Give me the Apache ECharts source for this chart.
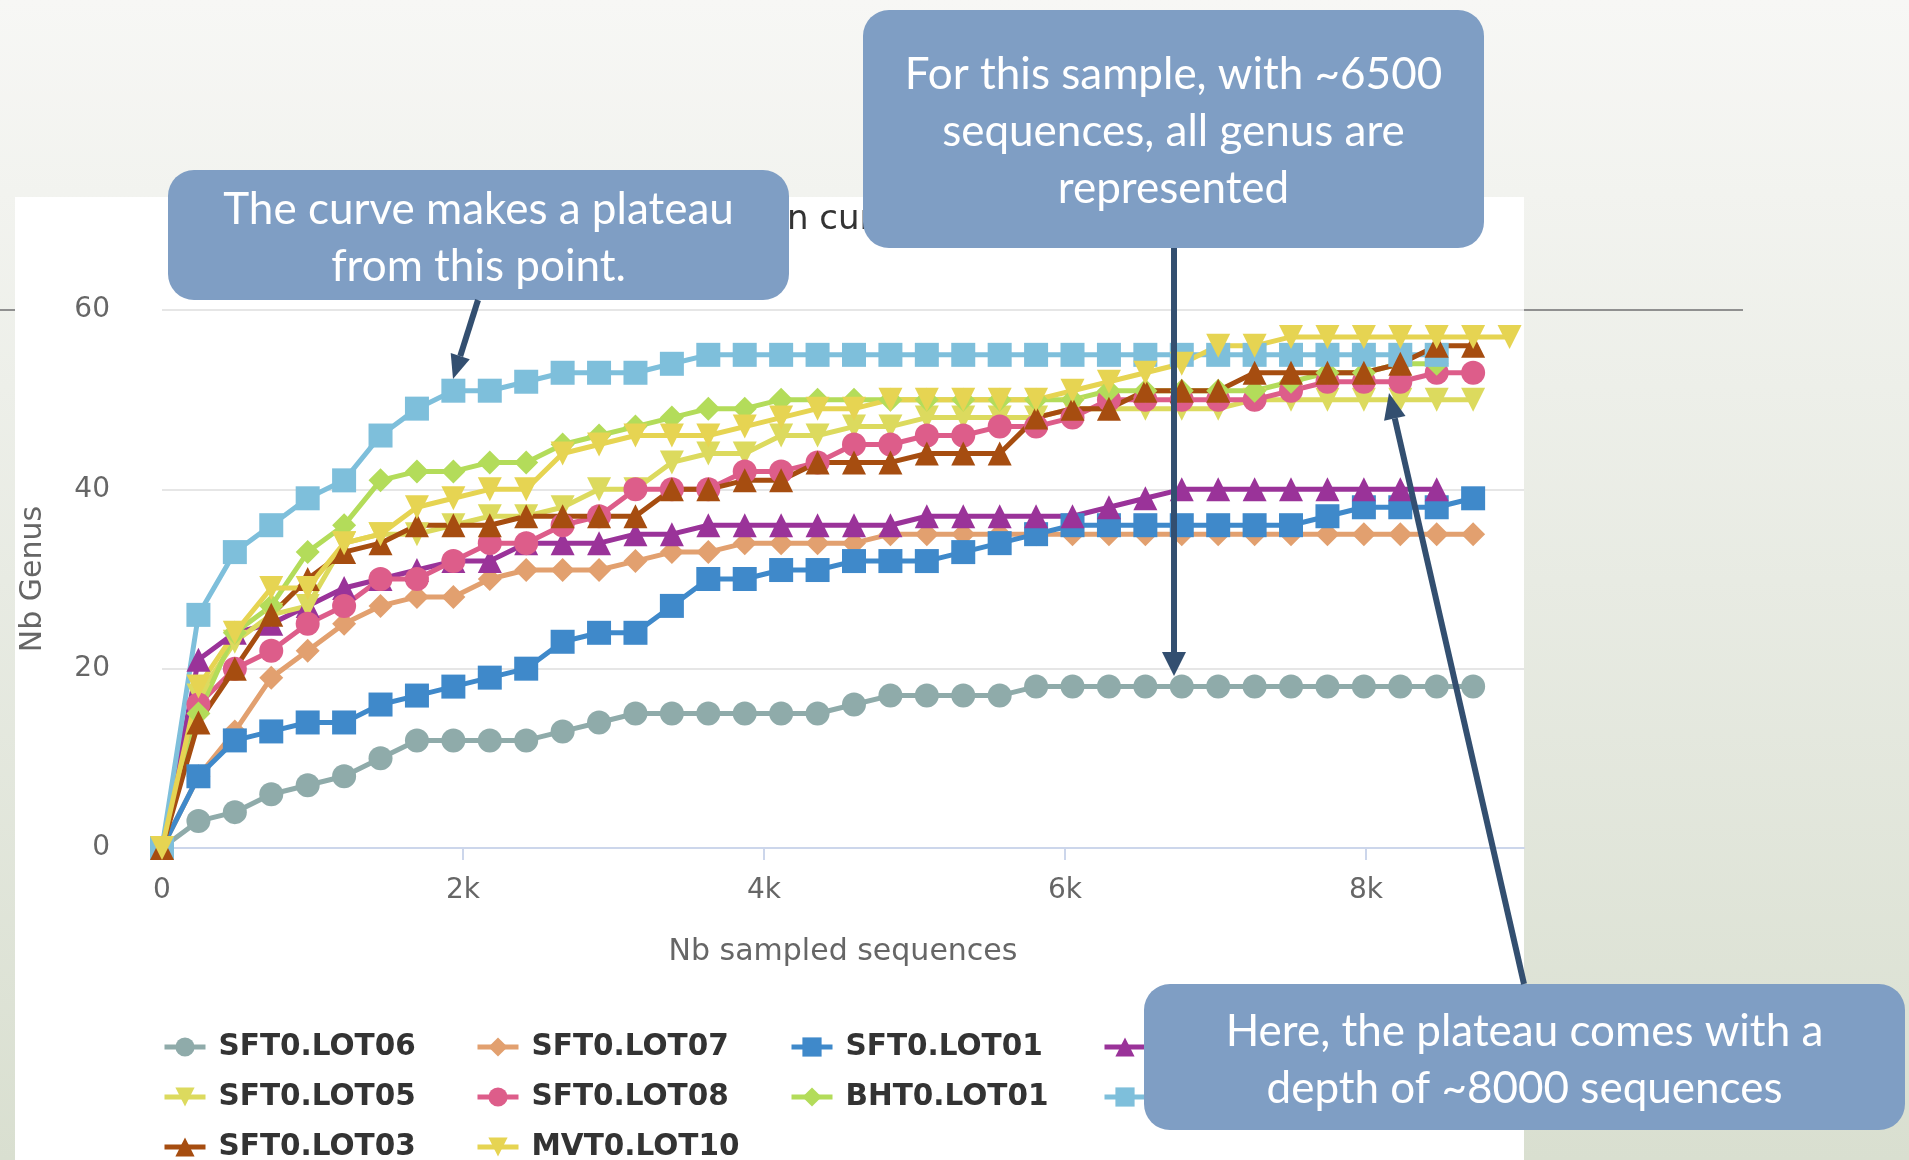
<!DOCTYPE html>
<html>
<head>
<meta charset="utf-8">
<script src="https://cdn.jsdelivr.net/npm/echarts@6/dist/echarts.min.js"></script>
<style>
html, body { margin: 0; padding: 0; }
#chart { width: 1909px; height: 1160px; }
</style>
</head>
<body>
<div id="chart"></div>
<script>
// sampled depth (nb of sequences) for each rarefaction step
var seqDepth = [0, 242, 484, 726, 968, 1210, 1452, 1694, 1936, 2178, 2420, 2662, 2904, 3146, 3388, 3630, 3872, 4114, 4356, 4598,
    4840, 5082, 5324, 5566, 5808, 6050, 6292, 6534, 6776, 7018, 7260, 7502, 7744, 7986, 8228, 8470, 8712, 8954];

var sft0Lot06 = [0, 3, 4, 6, 7, 8, 10, 12, 12, 12, 12, 13, 14, 15, 15, 15, 15, 15, 15, 16,
    17, 17, 17, 17, 18, 18, 18, 18, 18, 18, 18, 18, 18, 18, 18, 18, 18];
var sft0Lot07 = [0, 8, 13, 19, 22, 25, 27, 28, 28, 30, 31, 31, 31, 32, 33, 33, 34, 34, 34, 34,
    35, 35, 35, 35, 35, 35, 35, 35, 35, 35, 35, 35, 35, 35, 35, 35, 35];
var sft0Lot01 = [0, 8, 12, 13, 14, 14, 16, 17, 18, 19, 20, 23, 24, 24, 27, 30, 30, 31, 31, 32,
    32, 32, 33, 34, 35, 36, 36, 36, 36, 36, 36, 36, 37, 38, 38, 38, 39];
var sft0Lot02 = [0, 21, 24, 25, 27, 29, 30, 31, 32, 32, 34, 34, 34, 35, 35, 36, 36, 36, 36, 36,
    36, 37, 37, 37, 37, 37, 38, 39, 40, 40, 40, 40, 40, 40, 40, 40];
var sft0Lot05 = [0, 17, 23, 26, 27, 34, 35, 35, 36, 37, 37, 38, 40, 40, 43, 44, 44, 46, 46, 47,
    47, 48, 48, 48, 48, 49, 49, 49, 49, 49, 50, 50, 50, 50, 50, 50, 50];
var sft0Lot08 = [0, 16, 20, 22, 25, 27, 30, 30, 32, 34, 34, 36, 37, 40, 40, 40, 42, 42, 43, 45,
    45, 46, 46, 47, 47, 48, 50, 50, 50, 50, 50, 51, 52, 52, 52, 53, 53];
var bht0Lot01 = [0, 15, 24, 27, 33, 36, 41, 42, 42, 43, 43, 45, 46, 47, 48, 49, 49, 50, 50, 50,
    50, 50, 50, 50, 50, 50, 51, 51, 51, 51, 51, 52, 53, 53, 54, 54];
var sft0Lot04 = [0, 26, 33, 36, 39, 41, 46, 49, 51, 51, 52, 53, 53, 53, 54, 55, 55, 55, 55, 55,
    55, 55, 55, 55, 55, 55, 55, 55, 55, 55, 55, 55, 55, 55, 55, 55];
var sft0Lot03 = [0, 14, 20, 26, 30, 33, 34, 36, 36, 36, 37, 37, 37, 37, 40, 40, 41, 41, 43, 43,
    43, 44, 44, 44, 48, 49, 49, 51, 51, 51, 53, 53, 53, 53, 54, 56, 56];
var mvt0Lot10 = [0, 18, 24, 29, 29, 34, 35, 38, 39, 40, 40, 44, 45, 46, 46, 46, 47, 48, 49, 49,
    50, 50, 50, 50, 50, 51, 52, 53, 54, 56, 56, 57, 57, 57, 57, 57, 57, 57];

var sampleNames = ['SFT0.LOT06', 'SFT0.LOT07', 'SFT0.LOT01', 'SFT0.LOT02', 'SFT0.LOT05',
    'SFT0.LOT08', 'BHT0.LOT01', 'SFT0.LOT04', 'SFT0.LOT03', 'MVT0.LOT10'];
var sampleValues = [sft0Lot06, sft0Lot07, sft0Lot01, sft0Lot02, sft0Lot05,
    sft0Lot08, bht0Lot01, sft0Lot04, sft0Lot03, mvt0Lot10];
var sampleColors = ['#8fabaa', '#e2a06f', '#3f89ca', '#9a3399', '#dcda5e',
    '#dd5d8a', '#b3dc5a', '#7ebfdb', '#a64d10', '#e6d452'];
var triangleDown = 'path://M0,0L10,0L5,10Z';
var sampleSymbols = ['circle', 'diamond', 'rect', 'triangle', triangleDown,
    'circle', 'diamond', 'rect', 'triangle', triangleDown];

var xTicks = [0, 2000, 4000, 6000, 8000];
var yTicks = [0, 20, 40, 60];

var boxColor = '#7f9ec4';
var arrowColor = '#334f70';
var calloutFont = 'Lato';

function pairs(values) {
    var out = [];
    for (var i = 0; i < values.length; i++) {
        out.push([seqDepth[i], values[i]]);
    }
    return out;
}

function arrow(x1, y1, x2, y2, headLen, headW, lineW) {
    var dx = x2 - x1, dy = y2 - y1;
    var len = Math.sqrt(dx * dx + dy * dy);
    var ux = dx / len, uy = dy / len;
    var bx = x2 - ux * headLen, by = y2 - uy * headLen;
    var nx = -uy, ny = ux;
    return [
        {
            type: 'line', z: 100,
            shape: { x1: x1, y1: y1, x2: bx, y2: by },
            style: { stroke: arrowColor, lineWidth: lineW }
        },
        {
            type: 'polygon', z: 100,
            shape: { points: [[x2, y2], [bx + nx * headW / 2, by + ny * headW / 2], [bx - nx * headW / 2, by - ny * headW / 2]] },
            style: { fill: arrowColor }
        }
    ];
}

function callout(x, y, w, h, text) {
    return [
        {
            type: 'rect', z: 100,
            shape: { x: x, y: y, width: w, height: h, r: 26 },
            style: { fill: boxColor }
        },
        {
            type: 'text', z: 101,
            x: x + w / 2, y: y + h / 2 + 3,
            style: {
                text: text, fill: '#fff', fontFamily: calloutFont, fontSize: 44,
                lineHeight: 57, align: 'center', verticalAlign: 'middle'
            }
        }
    ];
}

var series = [];
for (var s = 0; s < sampleNames.length; s++) {
    series.push({
        name: sampleNames[s],
        type: 'line',
        data: pairs(sampleValues[s]),
        symbol: sampleSymbols[s],
        symbolSize: 24,
        showAllSymbol: true,
        lineStyle: { width: 5, color: sampleColors[s] },
        itemStyle: { color: sampleColors[s], borderWidth: 0 },
        emphasis: { disabled: true }
    });
}

// legend: one small legend per entry, laid out as a 4-column grid
var legendCols = [162, 475, 789, 1102];
var legendRows = [1032, 1082, 1132];
var legendLayout = [
    ['SFT0.LOT06', 0, 0], ['SFT0.LOT07', 1, 0], ['SFT0.LOT01', 2, 0], ['SFT0.LOT02', 3, 0],
    ['SFT0.LOT05', 0, 1], ['SFT0.LOT08', 1, 1], ['BHT0.LOT01', 2, 1], ['SFT0.LOT04', 3, 1],
    ['SFT0.LOT03', 0, 2], ['MVT0.LOT10', 1, 2]
];
var legends = legendLayout.map(function (it) {
    return {
        left: legendCols[it[1]],
        top: legendRows[it[2]],
        orient: 'horizontal',
        padding: 0,
        itemWidth: 41,
        itemHeight: 24,
        lineStyle: { width: 5 },
        data: [it[0]],
        textStyle: {
            fontFamily: 'DejaVu Sans', fontSize: 29.5, fontWeight: 'bold', color: '#333',
            lineHeight: 26, padding: [0, 0, 0, 8]
        }
    };
});

var graphics = [
    { type: 'line', z: -2, shape: { x1: 0, y1: 310, x2: 1743, y2: 310 }, style: { stroke: '#909090', lineWidth: 2 } },
    { type: 'rect', z: -1, shape: { x: 15, y: 197, width: 1509, height: 963 }, style: { fill: '#ffffff' } }
];
graphics = graphics
    .concat(callout(168, 170, 621, 130, 'The curve makes a plateau\nfrom this point.'))
    .concat(arrow(478, 300, 453, 379, 24, 20, 6))
    .concat(callout(863, 10, 621, 238, 'For this sample, with ~6500\nsequences, all genus are\nrepresented'))
    .concat(arrow(1174, 248, 1174, 676, 24, 24, 6))
    .concat(callout(1144, 984, 761, 146, 'Here, the plateau comes with a\ndepth of ~8000 sequences'))
    .concat(arrow(1524, 984, 1389, 393, 26, 22, 6));

var chart = echarts.init(document.getElementById('chart'));
chart.setOption({
    animation: false,
    backgroundColor: {
        type: 'linear', x: 0, y: 0, x2: 0, y2: 1,
        colorStops: [
            { offset: 0, color: '#f7f7f5' },
            { offset: 0.5, color: '#e8ebe3' },
            { offset: 1, color: '#d9dfd0' }
        ]
    },
    textStyle: { fontFamily: 'DejaVu Sans' },
    title: {
        text: 'Rarefaction curve',
        left: 614,
        top: 203,
        padding: 0,
        textStyle: { fontSize: 34, fontWeight: 'normal', color: '#333', fontFamily: 'DejaVu Sans' }
    },
    grid: { left: 162, right: 385, top: 310, bottom: 312, outerBoundsMode: 'none' },
    xAxis: {
        type: 'value',
        min: 0,
        max: 9050,
        interval: 2000,
        name: 'Nb sampled sequences',
        nameLocation: 'middle',
        nameGap: 89,
        nameTextStyle: { fontSize: 30, color: '#666' },
        axisLine: { show: true, lineStyle: { color: '#ccd6eb', width: 2 } },
        axisTick: { show: true, length: 12, lineStyle: { color: '#ccd6eb', width: 2 } },
        axisLabel: {
            fontSize: 28, color: '#666', margin: 29, showMaxLabel: false,
            formatter: function (v) {
                if (xTicks.indexOf(v) < 0) return '';
                return v === 0 ? '0' : (v / 1000) + 'k';
            }
        },
        splitLine: { show: false }
    },
    yAxis: {
        type: 'value',
        min: yTicks[0],
        max: yTicks[yTicks.length - 1],
        interval: 20,
        name: 'Nb Genus',
        nameLocation: 'middle',
        nameGap: 114,
        nameTextStyle: { fontSize: 30, color: '#666' },
        axisLine: { show: false },
        axisTick: { show: false },
        axisLabel: { fontSize: 28, color: '#666', margin: 52 },
        splitLine: { lineStyle: { color: '#e6e6e6', width: 2 } }
    },
    legend: legends,
    series: series,
    graphic: { elements: graphics }
});
</script>
</body>
</html>
